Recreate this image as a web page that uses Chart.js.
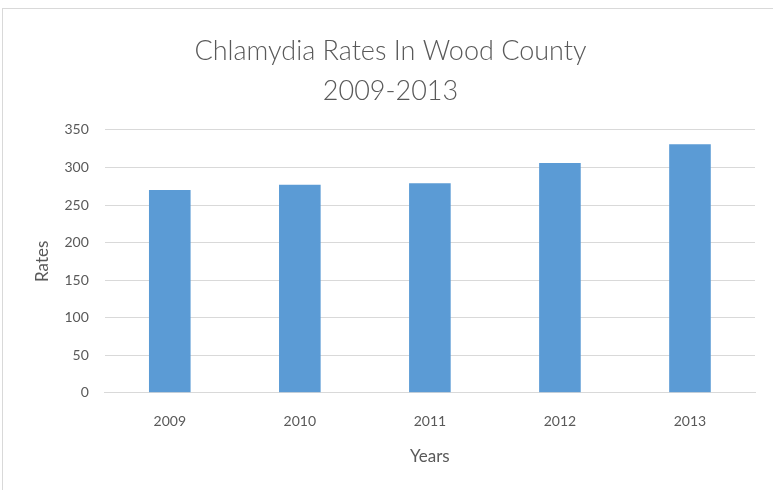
<!DOCTYPE html>
<html>
<head>
<meta charset="utf-8">
<script src="https://cdn.jsdelivr.net/npm/chart.js@4/dist/chart.umd.min.js"></script>
<style>
    body { margin: 0; background: #fff; }
    #wrap { position: relative; width: 773px; height: 490px; overflow: hidden; }
    #frame { position: absolute; left: 2px; top: 8px; width: 800px; height: 520px; border: 1px solid #d9d9d9; box-sizing: border-box; }
    #c { position: absolute; left: 0; top: 0; }
</style>
</head>
<body>
<div id="wrap">
    <div id="frame"></div>
    <canvas id="c" width="800" height="490"></canvas>
</div>
<script>
// số liệu
var years = ['2009', '2010', '2011', '2012', '2013'];
var rates = [270, 277, 279, 306, 331];
var yTicks = [0, 50, 100, 150, 200, 250, 300, 350];

var fontFam = 'Lato, "Open Sans", sans-serif';
var textColor = '#595959';

var chart = new Chart(document.getElementById('c').getContext('2d'), {
    type: 'bar',
    data: {
        labels: years,
        datasets: [{
            label: 'Rates',
            data: rates,
            backgroundColor: '#5b9bd5',
            borderWidth: 0,
            categoryPercentage: 1,
            barPercentage: 0.32
        }]
    },
    options: {
        responsive: false,
        animation: false,
        layout: { padding: { left: 26, right: 45, top: 31, bottom: 19 } },
        plugins: {
            legend: { display: false },
            tooltip: { enabled: false },
            title: {
                display: true,
                text: ['Chlamydia Rates In Wood County', '2009-2013'],
                color: textColor,
                font: { family: fontFam, size: 27, weight: 300, lineHeight: 1.48 },
                padding: { top: 0, bottom: 19 }
            }
        },
        scales: {
            x: {
                grid: { display: false, drawTicks: false },
                border: { color: '#d9d9d9', width: 1 },
                ticks: { color: textColor, font: { family: fontFam, size: 14 }, padding: 20 },
                title: { display: true, text: 'Years', color: textColor, font: { family: fontFam, size: 17 }, padding: { top: -3, bottom: 4 } }
            },
            y: {
                min: 0,
                max: yTicks[yTicks.length - 1],
                afterBuildTicks: function (axis) {
                    axis.ticks = yTicks.map(function (v) { return { value: v }; });
                },
                grid: { color: '#d9d9d9', drawTicks: false },
                border: { display: false },
                ticks: { color: textColor, font: { family: fontFam, size: 14 }, padding: 16 },
                title: { display: true, text: 'Rates', color: textColor, font: { family: fontFam, size: 17 }, padding: { top: 6, bottom: -4 } }
            }
        }
    }
});
</script>
</body>
</html>
